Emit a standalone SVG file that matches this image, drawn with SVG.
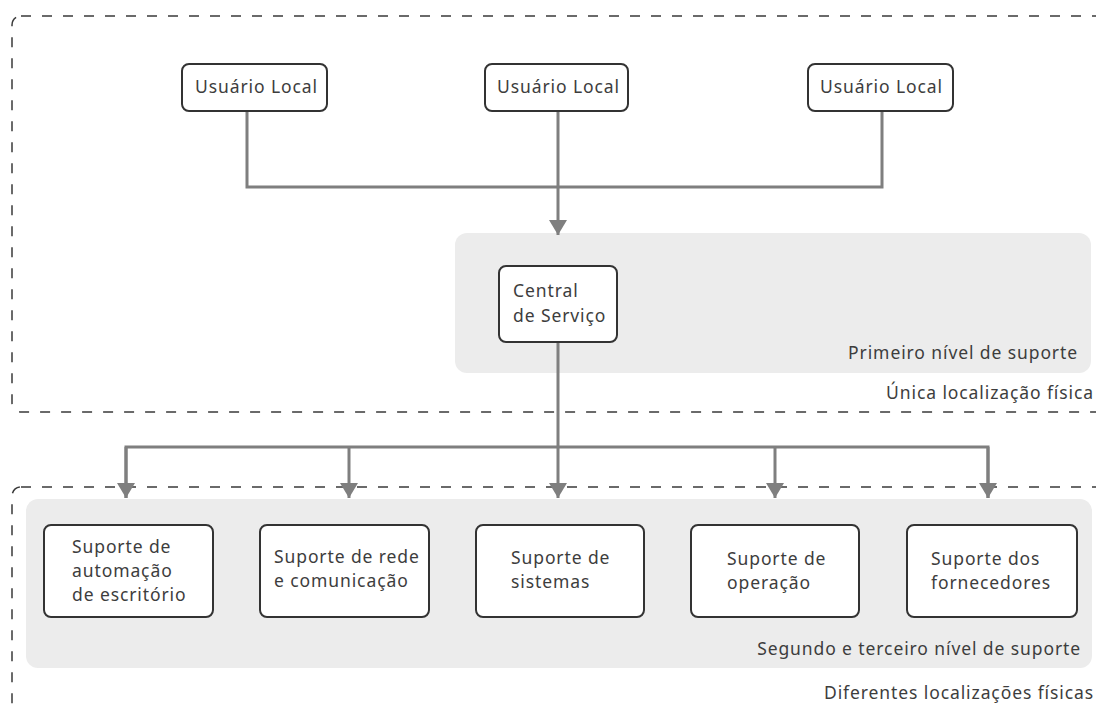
<svg xmlns="http://www.w3.org/2000/svg" width="1096" height="709" viewBox="0 0 1096 709">
<defs>
<style>
.zone{fill:none;stroke:#3a3a3a;stroke-width:1.5;stroke-dasharray:10 11}
.panel{fill:#ececec;stroke:none}
.node{fill:#fff;stroke:#333;stroke-width:2}
.t{font-family:"Noto Sans","Open Sans",sans-serif;font-size:17.5px;letter-spacing:0.9px;fill:#3d3d3d}
.r{text-anchor:end}
.wire{fill:none;stroke:#7f7f7f;stroke-width:3}
</style>
<marker id="ah" markerWidth="18" markerHeight="15" refX="9" refY="15" orient="0" markerUnits="userSpaceOnUse" viewBox="0 0 18 15">
<path d="M0,0 L18,0 L9,15 Z" fill="#7f7f7f"/>
</marker>
</defs>
<rect width="1096" height="709" fill="#fff"/>

<g id="zone-unica">
<rect class="zone" x="12" y="16" width="1100" height="396" rx="9"/>
<text class="t r" x="1094" y="399">Única localização física</text>
</g>
<g id="zone-diferentes">
<rect class="zone" x="12" y="487" width="1100" height="226" rx="9"/>
<text class="t r" x="1094" y="699">Diferentes localizações físicas</text>
</g>

<g id="panel-primeiro">
<rect class="panel" x="455" y="233" width="636" height="140" rx="12"/>
<text class="t r" x="1078" y="359">Primeiro nível de suporte</text>
</g>
<g id="panel-segundo">
<rect class="panel" x="26" y="499" width="1066" height="169" rx="12"/>
<text class="t r" x="1081" y="655">Segundo e terceiro nível de suporte</text>
</g>

<g id="connectors">
<path class="wire" d="M247,111 V187 H882 V111"/>
<path class="wire" d="M558,111 V235" marker-end="url(#ah)"/>
<path class="wire" d="M558,342 V447"/>
<path class="wire" d="M126,498 V447 H988 V498"/>
<path class="wire" d="M126,447 V498" marker-end="url(#ah)"/>
<path class="wire" d="M349,447 V498" marker-end="url(#ah)"/>
<path class="wire" d="M558,447 V498" marker-end="url(#ah)"/>
<path class="wire" d="M775,447 V498" marker-end="url(#ah)"/>
<path class="wire" d="M988,447 V498" marker-end="url(#ah)"/>
</g>

<g id="usuario-1">
<rect class="node" x="182" y="64" width="145" height="47" rx="7"/>
<text class="t" x="195" y="93">Usuário Local</text>
</g>
<g id="usuario-2">
<rect class="node" x="485" y="64" width="143" height="47" rx="7"/>
<text class="t" x="497" y="93">Usuário Local</text>
</g>
<g id="usuario-3">
<rect class="node" x="808" y="64" width="145" height="47" rx="7"/>
<text class="t" x="820" y="93">Usuário Local</text>
</g>

<g id="central">
<rect class="node" x="499" y="266" width="118" height="76" rx="7"/>
<text class="t" x="513" y="297">Central</text>
<text class="t" x="513" y="322">de Serviço</text>
</g>

<g id="suporte-automacao">
<rect class="node" x="44" y="525" width="169" height="92" rx="7"/>
<text class="t" x="72" y="553">Suporte de</text>
<text class="t" x="72" y="577">automação</text>
<text class="t" x="72" y="601">de escritório</text>
</g>
<g id="suporte-rede">
<rect class="node" x="260" y="525" width="169" height="92" rx="7"/>
<text class="t" x="274" y="563">Suporte de rede</text>
<text class="t" x="274" y="587">e comunicação</text>
</g>
<g id="suporte-sistemas">
<rect class="node" x="476" y="525" width="168" height="92" rx="7"/>
<text class="t" x="511" y="564">Suporte de</text>
<text class="t" x="511" y="588">sistemas</text>
</g>
<g id="suporte-operacao">
<rect class="node" x="691" y="525" width="168" height="92" rx="7"/>
<text class="t" x="727" y="565">Suporte de</text>
<text class="t" x="727" y="589">operação</text>
</g>
<g id="suporte-fornecedores">
<rect class="node" x="907" y="525" width="170" height="92" rx="7"/>
<text class="t" x="931" y="565">Suporte dos</text>
<text class="t" x="931" y="589">fornecedores</text>
</g>
</svg>
